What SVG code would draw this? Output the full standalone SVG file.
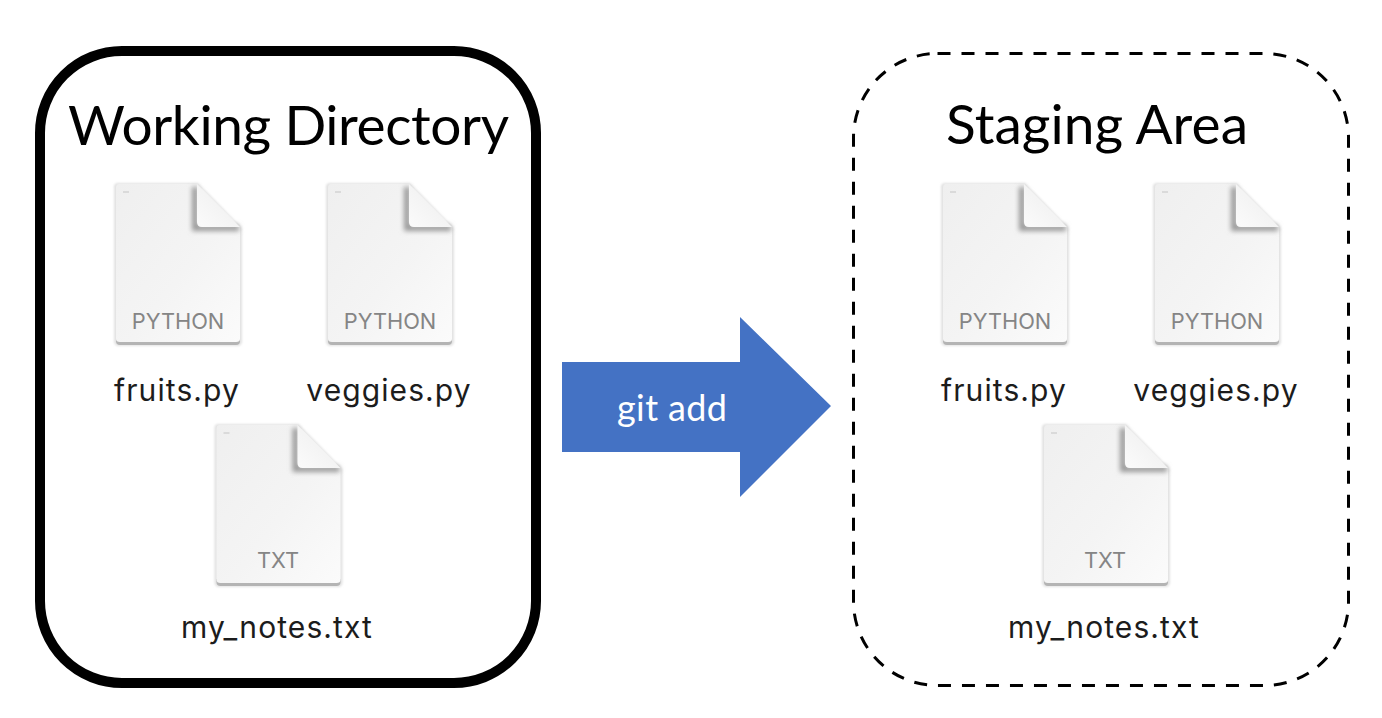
<svg xmlns="http://www.w3.org/2000/svg" width="1382" height="718" viewBox="0 0 1382 718">
<style>
.title{font-family:Lato,"Liberation Sans",sans-serif;font-size:55px;fill:#000;text-anchor:middle}
.name{font-family:Inter,Roboto,"Liberation Sans",sans-serif;font-size:30px;letter-spacing:1.1px;fill:#1c1c1c;text-anchor:middle}
.kind{font-family:Inter,Roboto,"Liberation Sans",sans-serif;font-size:21.8px;fill:#858585;text-anchor:middle}
.arrowlabel{font-family:Lato,"Liberation Sans",sans-serif;font-size:36px;fill:#fff;text-anchor:middle}
</style>
<defs>
<linearGradient id="sheet" x1="0" y1="0" x2="1" y2="1">
<stop offset="0" stop-color="#efefef"/><stop offset="0.55" stop-color="#f4f4f4"/><stop offset="1" stop-color="#fbfbfb"/>
</linearGradient>
<linearGradient id="fold" x1="0" y1="1" x2="1" y2="0">
<stop offset="0" stop-color="#fbfbfb"/><stop offset="1" stop-color="#ececec"/>
</linearGradient>
<filter id="soft" x="-30%" y="-30%" width="160%" height="160%"><feGaussianBlur stdDeviation="2.6"/></filter>
<filter id="edge" x="-10%" y="-10%" width="120%" height="120%"><feGaussianBlur stdDeviation="1.2"/></filter>
<g id="page">
<path d="M3 -1H83L127 44V157Q127 162 122 162H4Q-1 162 -1 157V3Q-1 -1 3 -1Z" fill="#e2e2e2" filter="url(#edge)"/>
<path d="M1 154V157Q1 161 5 161H121Q125 161 125 157V154Z" fill="#b4b4b4"/>
<path d="M4 0H82L125 43V155Q125 158 121 158H5Q1 158 1 155V4Q1 0 4 0Z" fill="url(#sheet)"/>
<path d="M80 3V44H124" fill="none" stroke="#999" stroke-width="6" filter="url(#soft)"/>
<path d="M82 0L125 43H87Q82 43 82 38Z" fill="url(#fold)"/>
<rect x="8" y="7" width="6" height="2" fill="#dadada"/>
</g>
</defs>
<g id="connectors">
<path id="git-add-arrow" d="M562 362H740V317L831 406L740 497V452H562Z" fill="#4472c4"/>
<text class="arrowlabel" x="672" y="421" textLength="110">git add</text>
</g>
<g id="working-directory">
<rect x="40" y="51" width="496" height="632" rx="82" fill="#fff" stroke="#000" stroke-width="10"/>
<text class="title" x="288.5" y="145" textLength="441">Working Directory</text>
</g>
<g id="staging-area">
<rect x="853.5" y="53.5" width="495" height="632" rx="84" fill="#fff" stroke="#000" stroke-width="3" stroke-dasharray="13 11"/>
<text class="title" x="1097" y="144" textLength="302">Staging Area</text>
</g>
<g id="wd-fruits">
<use href="#page" x="115" y="184"/>
<text class="kind" x="178" y="329">PYTHON</text>
<text class="name" x="177" y="401">fruits.py</text>
</g>
<g id="wd-veggies">
<use href="#page" x="327" y="184"/>
<text class="kind" x="390" y="329">PYTHON</text>
<text class="name" x="389" y="401">veggies.py</text>
</g>
<g id="wd-notes">
<use href="#page" x="215.5" y="425"/>
<text class="kind" x="278" y="568">TXT</text>
<text class="name" x="277" y="638">my_notes.txt</text>
</g>
<g id="sa-fruits">
<use href="#page" x="942" y="184"/>
<text class="kind" x="1005" y="329">PYTHON</text>
<text class="name" x="1004" y="401">fruits.py</text>
</g>
<g id="sa-veggies">
<use href="#page" x="1154" y="184"/>
<text class="kind" x="1217" y="329">PYTHON</text>
<text class="name" x="1216" y="401">veggies.py</text>
</g>
<g id="sa-notes">
<use href="#page" x="1043" y="425"/>
<text class="kind" x="1105" y="568">TXT</text>
<text class="name" x="1104" y="638">my_notes.txt</text>
</g>
</svg>
